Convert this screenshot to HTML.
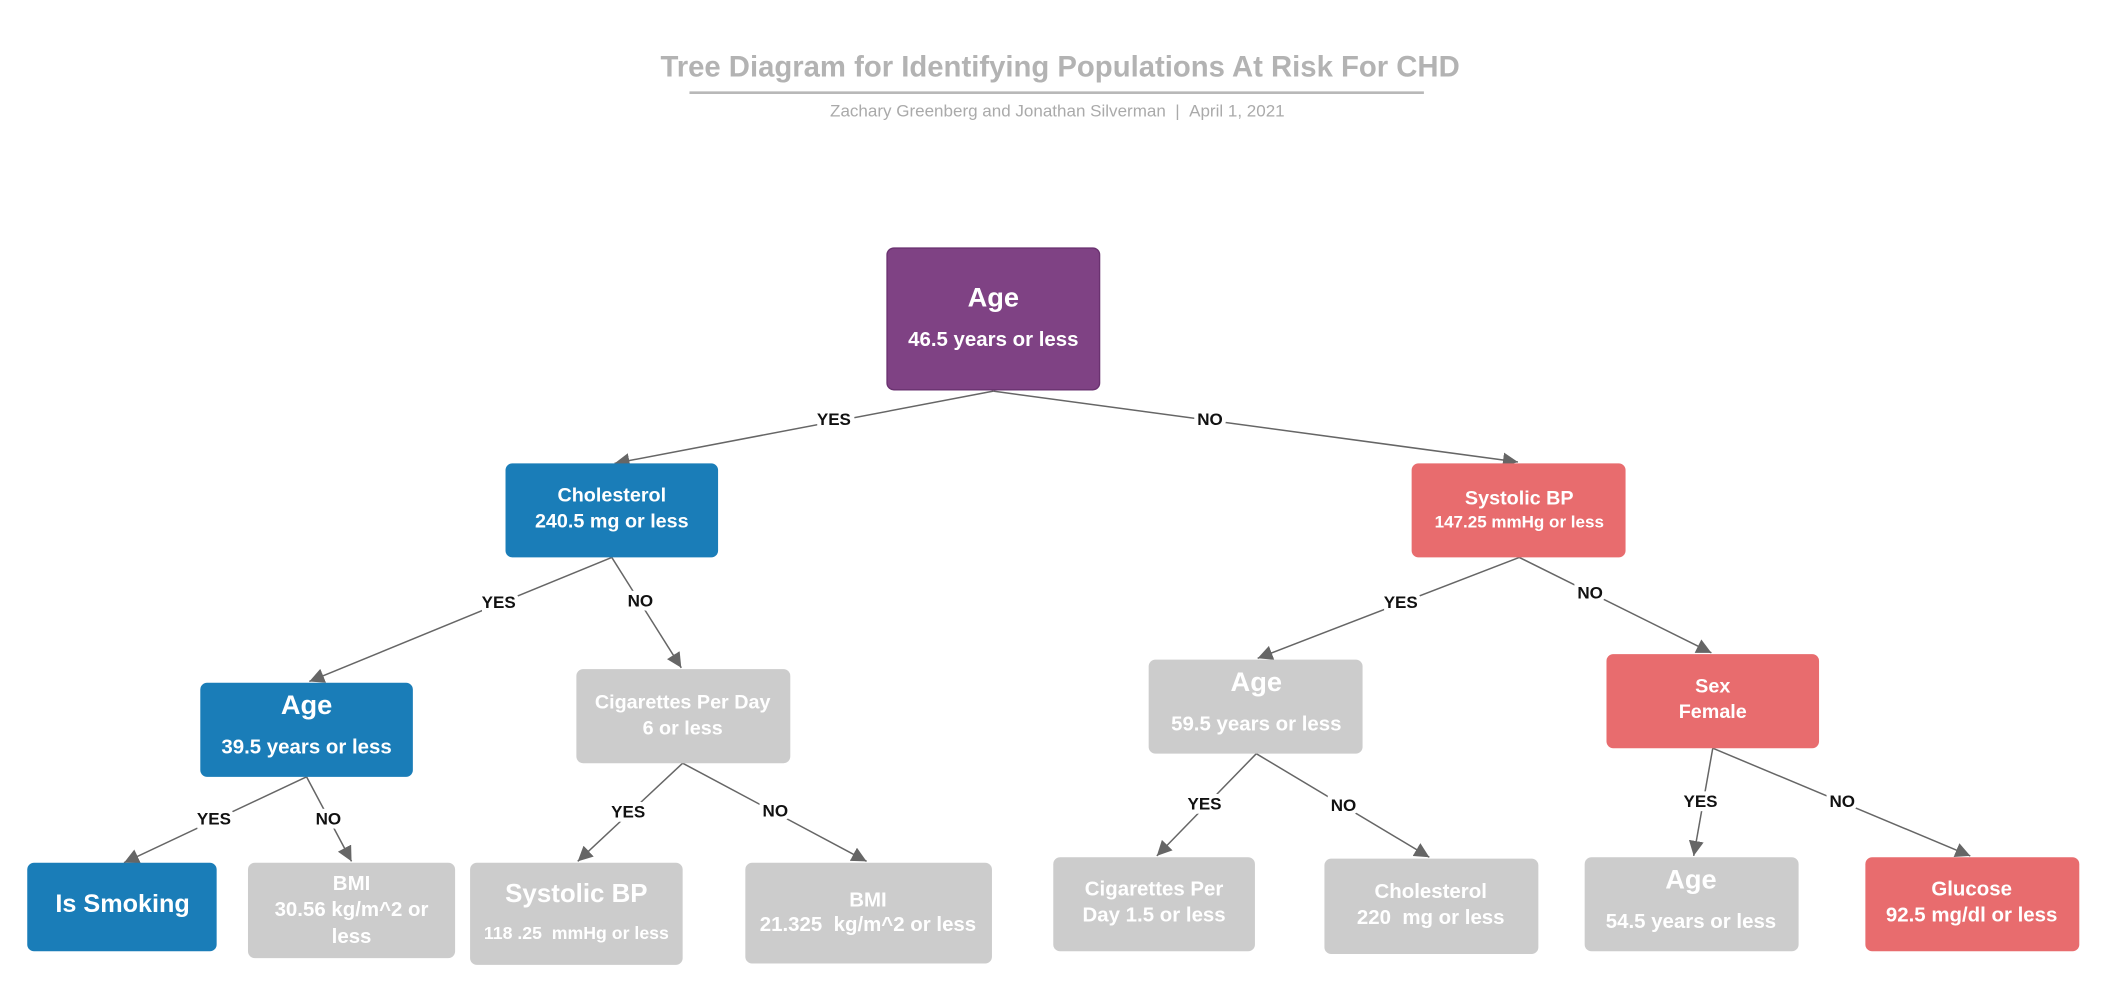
<!DOCTYPE html>
<html><head><meta charset="utf-8"><style>
html,body{margin:0;padding:0;background:#fff;width:2112px;height:984px;overflow:hidden}
svg{display:block}
text{font-family:"Liberation Sans",sans-serif}
.n{fill:#fff;font-weight:bold;text-anchor:middle}
.l{fill:#111;font-size:12.5px;font-weight:bold;text-anchor:middle;paint-order:stroke;stroke:#fff;stroke-width:6px}
.e{stroke:#666;stroke-width:1.1;fill:none;marker-end:url(#a)}
</style></head><body>
<svg width="2112" height="984" viewBox="0 0 1550 722" preserveAspectRatio="none">
<defs><marker id="a" viewBox="0 0 10 10" refX="10" refY="5" markerWidth="11" markerHeight="11" markerUnits="userSpaceOnUse" orient="auto"><path d="M0,0 L10,5 L0,10 z" fill="#666"/></marker></defs>
<text x="778" y="56" font-size="21.5" font-weight="bold" fill="#b3b3b3" text-anchor="middle">Tree Diagram for Identifying Populations At Risk For CHD</text>
<line x1="506" y1="68" x2="1045" y2="68" stroke="#b8b8b8" stroke-width="2"/>
<text x="776" y="85.5" font-size="12.5" fill="#aaa" text-anchor="middle">Zachary Greenberg and Jonathan Silverman&#160;&#160;|&#160;&#160;April 1, 2021</text>

<path class="e" d="M729,287 L451,340"/>
<path class="e" d="M729,287 L1114,339"/>
<path class="e" d="M449,409 L227,500"/>
<path class="e" d="M449,409 L500,490"/>
<path class="e" d="M1115,409 L923,483"/>
<path class="e" d="M1115,409 L1256,479"/>
<path class="e" d="M225,570 L91,633"/>
<path class="e" d="M225,570 L258,632"/>
<path class="e" d="M501,560 L424,632"/>
<path class="e" d="M501,560 L636,632"/>
<path class="e" d="M922,553 L849,628"/>
<path class="e" d="M922,553 L1049,629"/>
<path class="e" d="M1257,549 L1243,628"/>
<path class="e" d="M1257,549 L1446,628"/>
<text class="l" x="612" y="312">YES</text>
<text class="l" x="888" y="312">NO</text>
<text class="l" x="366" y="446">YES</text>
<text class="l" x="470" y="445">NO</text>
<text class="l" x="1028" y="446">YES</text>
<text class="l" x="1167" y="439">NO</text>
<text class="l" x="157" y="605">YES</text>
<text class="l" x="241" y="605">NO</text>
<text class="l" x="461" y="600">YES</text>
<text class="l" x="569" y="599">NO</text>
<text class="l" x="884" y="594">YES</text>
<text class="l" x="986" y="595">NO</text>
<text class="l" x="1248" y="592">YES</text>
<text class="l" x="1352" y="592">NO</text>

<rect x="651" y="182" width="156" height="104" rx="5" fill="#7f4284" stroke="#6a3270" stroke-width="1"/>
<text class="n" x="729" y="225" font-size="20">Age</text>
<text class="n" x="729" y="254" font-size="15">46.5 years or less</text>

<rect x="371" y="340" width="156" height="69" rx="5" fill="#1a7db8"/>
<text class="n" x="449" y="368" font-size="14.5">Cholesterol</text>
<text class="n" x="449" y="387" font-size="14.5">240.5 mg or less</text>

<rect x="1036" y="340" width="157" height="69" rx="5" fill="#e86c6e"/>
<text class="n" x="1115" y="370" font-size="14.5">Systolic BP</text>
<text class="n" x="1115" y="387" font-size="12.5">147.25 mmHg or less</text>

<rect x="147" y="501" width="156" height="69" rx="5" fill="#1a7db8"/>
<text class="n" x="225" y="524" font-size="20">Age</text>
<text class="n" x="225" y="553" font-size="15">39.5 years or less</text>

<rect x="423" y="491" width="157" height="69" rx="5" fill="#cccccc"/>
<text class="n" x="501" y="520" font-size="14.5">Cigarettes Per Day</text>
<text class="n" x="501" y="539" font-size="14.5">6 or less</text>

<rect x="843" y="484" width="157" height="69" rx="5" fill="#cccccc"/>
<text class="n" x="922" y="507" font-size="20">Age</text>
<text class="n" x="922" y="536" font-size="15">59.5 years or less</text>

<rect x="1179" y="480" width="156" height="69" rx="5" fill="#e86c6e"/>
<text class="n" x="1257" y="508" font-size="14.5">Sex</text>
<text class="n" x="1257" y="527" font-size="14.5">Female</text>

<rect x="20" y="633" width="139" height="65" rx="5" fill="#1a7db8"/>
<text class="n" x="90" y="669" font-size="18.5">Is Smoking</text>

<rect x="182" y="633" width="152" height="70" rx="5" fill="#cccccc"/>
<text class="n" x="258" y="653" font-size="15">BMI</text>
<text class="n" x="258" y="672" font-size="15">30.56 kg/m^2 or</text>
<text class="n" x="258" y="692" font-size="15">less</text>

<rect x="345" y="633" width="156" height="75" rx="5" fill="#cccccc"/>
<text class="n" x="423" y="662" font-size="19">Systolic BP</text>
<text class="n" x="423" y="689" font-size="13">118 .25&#160;&#160;mmHg or less</text>

<rect x="547" y="633" width="181" height="74" rx="5" fill="#cccccc"/>
<text class="n" x="637" y="665" font-size="15">BMI</text>
<text class="n" x="637" y="683" font-size="15">21.325&#160;&#160;kg/m^2 or less</text>

<rect x="773" y="629" width="148" height="69" rx="5" fill="#cccccc"/>
<text class="n" x="847" y="657" font-size="15">Cigarettes Per</text>
<text class="n" x="847" y="676" font-size="15">Day 1.5 or less</text>

<rect x="972" y="630" width="157" height="70" rx="5" fill="#cccccc"/>
<text class="n" x="1050" y="659" font-size="15">Cholesterol</text>
<text class="n" x="1050" y="678" font-size="15">220&#160;&#160;mg or less</text>

<rect x="1163" y="629" width="157" height="69" rx="5" fill="#cccccc"/>
<text class="n" x="1241" y="652" font-size="20">Age</text>
<text class="n" x="1241" y="681" font-size="15">54.5 years or less</text>

<rect x="1369" y="629" width="157" height="69" rx="5" fill="#e86c6e"/>
<text class="n" x="1447" y="657" font-size="15">Glucose</text>
<text class="n" x="1447" y="676" font-size="15">92.5 mg/dl or less</text>
</svg>
</body></html>
